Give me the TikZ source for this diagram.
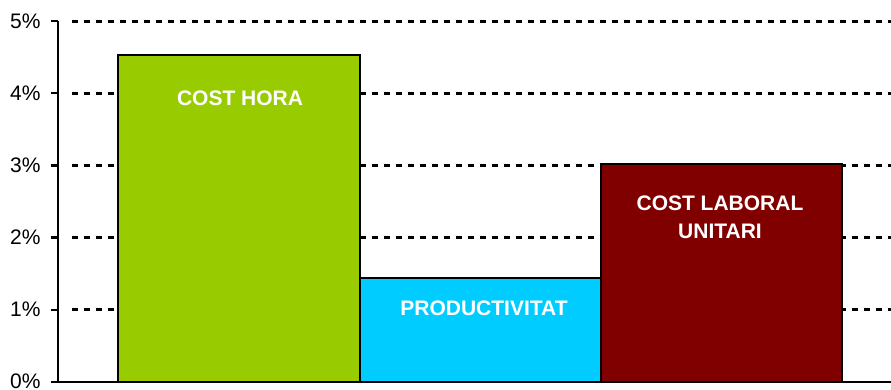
\documentclass[tikz,border=0pt]{standalone}
\usepackage{fontspec}
\setmainfont{Liberation Sans}
\usepackage{tikz}
\usetikzlibrary{positioning}

\definecolor{horagreen}{HTML}{99CC00}
\definecolor{prodcyan}{HTML}{00CCFF}
\definecolor{clumaroon}{HTML}{800000}

\begin{document}
\begin{tikzpicture}[x=0.5pt, y=36.05pt,
    axisline/.style={black, line width=1.1pt},
    gridline/.style={black, line width=1.3pt, dash pattern=on 3pt off 3pt},
    barbox/.style={black, line width=1pt},
    ticklabel/.style={anchor=east, inner sep=0pt, font=\fontsize{10.5}{13}\selectfont},
    barlabel/.style={text=white, align=center, inner sep=0pt, font=\fontsize{10.5}{14}\selectfont\bfseries}]
\useasboundingbox (0,-0.115) rectangle (891,5.294);

% dotted grid
\draw[gridline] (72,1) -- (891,1);
\draw[gridline] (72,2) -- (891,2);
\draw[gridline] (72,3) -- (891,3);
\draw[gridline] (72,4) -- (891,4);
\draw[gridline] (72,5) -- (891,5);

% bars
\draw[barbox, fill=horagreen] (118,0) rectangle (359.5,4.53);
\draw[barbox, fill=prodcyan] (359.5,0) rectangle (600.5,1.44);
\draw[barbox, fill=clumaroon] (600.5,0) rectangle (842,3.02);

\node[barlabel] (hora) at (240,3.935) {COST HORA};
\node[barlabel] (prod) at (484,1.022) {PRODUCTIVITAT};
\node[barlabel] (clu) at (720,2.284) {COST LABORAL\\UNITARI};

% axes
\draw[axisline] (58,0) -- (58,5);
\draw[axisline] (51,0) -- (891,0);

\draw[axisline] (51,0) -- (58,0);
\node[ticklabel] (t0) at (41,0) {0\%};
\draw[axisline] (51,1) -- (58,1);
\node[ticklabel] (t1) at (41,1) {1\%};
\draw[axisline] (51,2) -- (58,2);
\node[ticklabel] (t2) at (41,2) {2\%};
\draw[axisline] (51,3) -- (58,3);
\node[ticklabel] (t3) at (41,3) {3\%};
\draw[axisline] (51,4) -- (58,4);
\node[ticklabel] (t4) at (41,4) {4\%};
\draw[axisline] (51,5) -- (58,5);
\node[ticklabel] (t5) at (41,5) {5\%};

\end{tikzpicture}
\end{document}
